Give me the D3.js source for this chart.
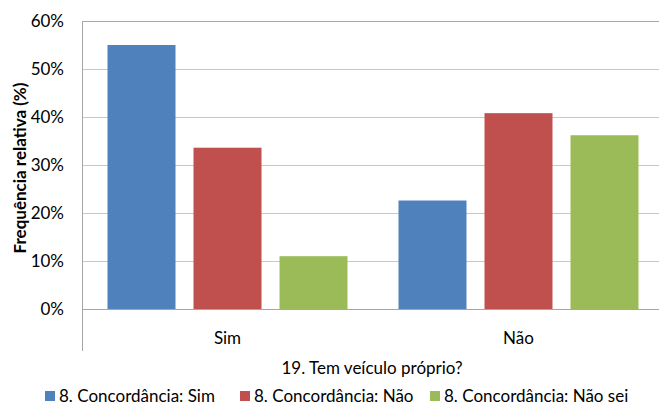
<!DOCTYPE html>
<html><head><meta charset="utf-8">
<script src="https://cdn.jsdelivr.net/npm/d3@7"></script>
<style>body{margin:0;background:#fff;overflow:hidden}text{font-family:Lato,"Liberation Sans",Arial,sans-serif;fill:#000}</style>
</head><body><svg id="c" width="659" height="407"></svg>
<script>
const categories = ["Sim", "Não"];
const seriesNames = ["8. Concordância: Sim", "8. Concordância: Não", "8. Concordância: Não sei"];
const seriesSim = [55.0, 33.6, 11.0];
const seriesNao = [22.6, 40.8, 36.2];
const yTicks = [0, 10, 20, 30, 40, 50, 60];
const colors = ["#4f81bd", "#c0504d", "#9bbb59"];

const values = [seriesSim, seriesNao];
const svg = d3.select("#c");
const L = 82, R = 664, T = 21, B = 309;
const x0 = d3.scaleBand().domain(categories).range([L, R]).paddingInner(0).paddingOuter(0);
const y = d3.scaleLinear().domain([0, 60]).range([B, T]);

// gridlines
svg.append("g").selectAll("line").data(yTicks).join("line")
  .attr("x1", L).attr("x2", R).attr("y1", d => y(d)).attr("y2", d => y(d))
  .attr("stroke", d => d === 60 ? "#a8a8a8" : "#c8c8c8").attr("stroke-width", 1).attr("shape-rendering", "crispEdges");

// y axis
const yAxis = d3.axisLeft(y).tickValues(yTicks).tickFormat(d => d + "%").tickSize(0).tickPadding(18);
const ga = svg.append("g").attr("transform", `translate(${L},0)`).call(yAxis);
ga.select(".domain").remove();
ga.selectAll("text").style("font-size", "17px").attr("fill", "#000");

// bars
const bw = 68, step = 86;
categories.forEach((c, i) => {
  const cx = x0(c) + x0.bandwidth() / 2;
  svg.append("g").selectAll("rect").data(values[i]).join("rect")
    .attr("x", (d, j) => cx + (j - 1) * step - bw / 2)
    .attr("width", bw)
    .attr("y", d => y(d))
    .attr("height", d => y(0) - y(d))
    .attr("fill", (d, j) => colors[j]);
});

// axis lines
svg.append("line").attr("x1", L).attr("x2", L).attr("y1", T).attr("y2", 351)
  .attr("stroke", "#a6a6a6").attr("shape-rendering", "crispEdges");
svg.append("line").attr("x1", L).attr("x2", R).attr("y1", B).attr("y2", B)
  .attr("stroke", "#a6a6a6").attr("shape-rendering", "crispEdges");

// category labels
const xAxis = d3.axisBottom(x0).tickSize(0).tickPadding(0);
const gx = svg.append("g").attr("transform", `translate(0,${B})`).call(xAxis);
gx.select(".domain").remove();
gx.selectAll("text").attr("dy", null).attr("y", 35).style("font-size", "17px").attr("fill", "#000");

// axis titles
svg.append("text").attr("x", 372).attr("y", 374).attr("text-anchor", "middle")
  .style("font-size", "17px").text("19. Tem veículo próprio?");
svg.append("text").attr("transform", `translate(26,168) rotate(-90)`)
  .attr("text-anchor", "middle").style("font-size", "17px").style("font-weight", "bold")
  .text("Frequência relativa (%)");

// legend
const legX = [45, 240, 430];
const lg = svg.append("g").selectAll("g").data(seriesNames).join("g")
  .attr("transform", (d, i) => `translate(${legX[i]},391)`);
lg.append("rect").attr("width", 10).attr("height", 10).attr("fill", (d, i) => colors[i]);
lg.append("text").attr("x", 14).attr("y", 11).style("font-size", "17px").text(d => d);
</script></body></html>
